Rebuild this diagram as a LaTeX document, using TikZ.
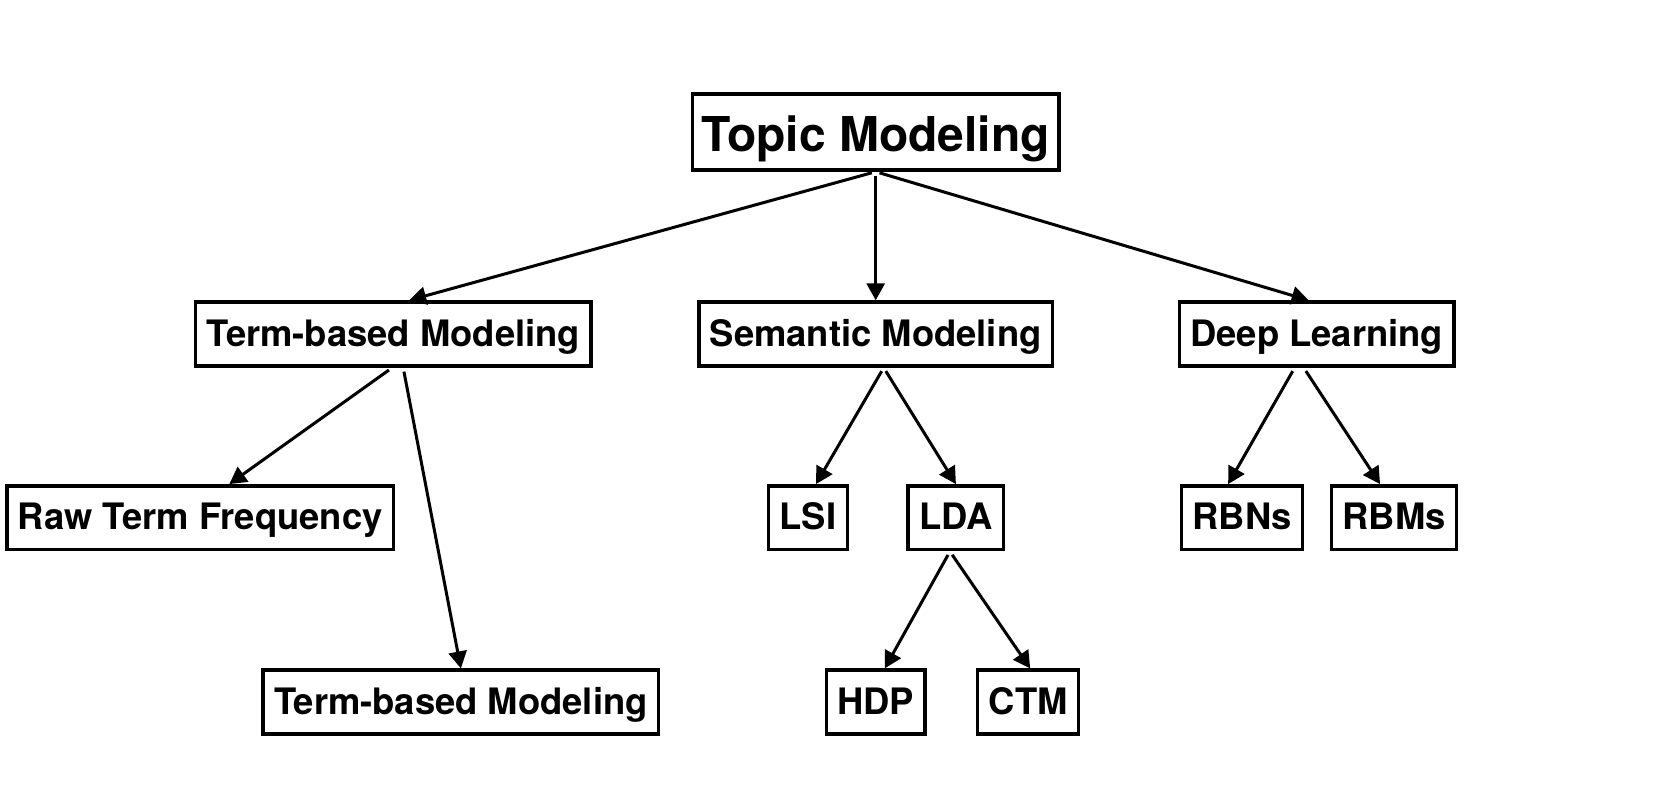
\documentclass[tikz,border=0pt]{standalone}
\usepackage{fontspec}
\setmainfont{TeX Gyre Heros}
\usetikzlibrary{arrows.meta}

\begin{document}
\begin{tikzpicture}[
        >={Triangle[length=8.5pt,width=9pt]},
        every node/.style={font=\bfseries\fontsize{18.2}{20}\selectfont},
        topicbox/.style={
            draw,
            line width=1.7pt,
            inner xsep=5.5pt,
            inner ysep=0pt,
            text height=14pt,
            text depth=2pt,
            minimum height=32pt
        },
        link/.style={->, line width=1.5pt, shorten <=2pt}
    ]
        \useasboundingbox (0,0) rectangle (29.42,-14.23);

        \node[topicbox, font=\bfseries\fontsize{24}{28}\selectfont, minimum height=38pt, inner xsep=4.5pt, text height=22pt, text depth=2.2pt] (topic) at (15.39,-2.32) {Topic Modeling};

        \node[topicbox] (termbased) at (6.91,-5.87) {Term-based Modeling};
        \node[topicbox] (semantic) at (15.39,-5.87) {Semantic Modeling};
        \node[topicbox] (deep) at (23.14,-5.87) {Deep Learning};

        \node[topicbox] (rawtf) at (3.52,-9.10) {Raw Term Frequency};
        \node[topicbox] (termbased2) at (8.10,-12.34) {Term-based Modeling};
        \node[topicbox] (lsi) at (14.20,-9.10) {LSI};
        \node[topicbox] (lda) at (16.80,-9.10) {LDA};
        \node[topicbox] (rbns) at (21.83,-9.10) {RBNs};
        \node[topicbox] (rbms) at (24.50,-9.10) {RBMs};
        \node[topicbox] (hdp) at (15.39,-12.34) {HDP};
        \node[topicbox] (ctm) at (18.07,-12.34) {CTM};

        \draw[link] (topic.south) -- ([xshift=8pt]termbased.north);
        \draw[link] (topic.south) -- (semantic.north);
        \draw[link] (topic.south) -- ([xshift=-4pt]deep.north);

        \draw[link] ([xshift=-0.5pt]termbased.south) -- ([xshift=14.5pt]rawtf.north);
        \draw[link] ([xshift=5pt]termbased.south) -- (termbased2.north);

        \draw[link] ([xshift=4pt]semantic.south) -- ([xshift=4pt]lsi.north);
        \draw[link] ([xshift=4pt]semantic.south) -- (lda.north);

        \draw[link] ([xshift=-3pt]lda.south) -- ([xshift=4.5pt]hdp.north);
        \draw[link] ([xshift=-3pt]lda.south) -- ([xshift=1pt]ctm.north);

        \draw[link] ([xshift=-11pt]deep.south) -- ([xshift=-7pt]rbns.north);
        \draw[link] ([xshift=-6.5pt]deep.south) -- ([xshift=-7pt]rbms.north);
    \end{tikzpicture}
\end{document}
